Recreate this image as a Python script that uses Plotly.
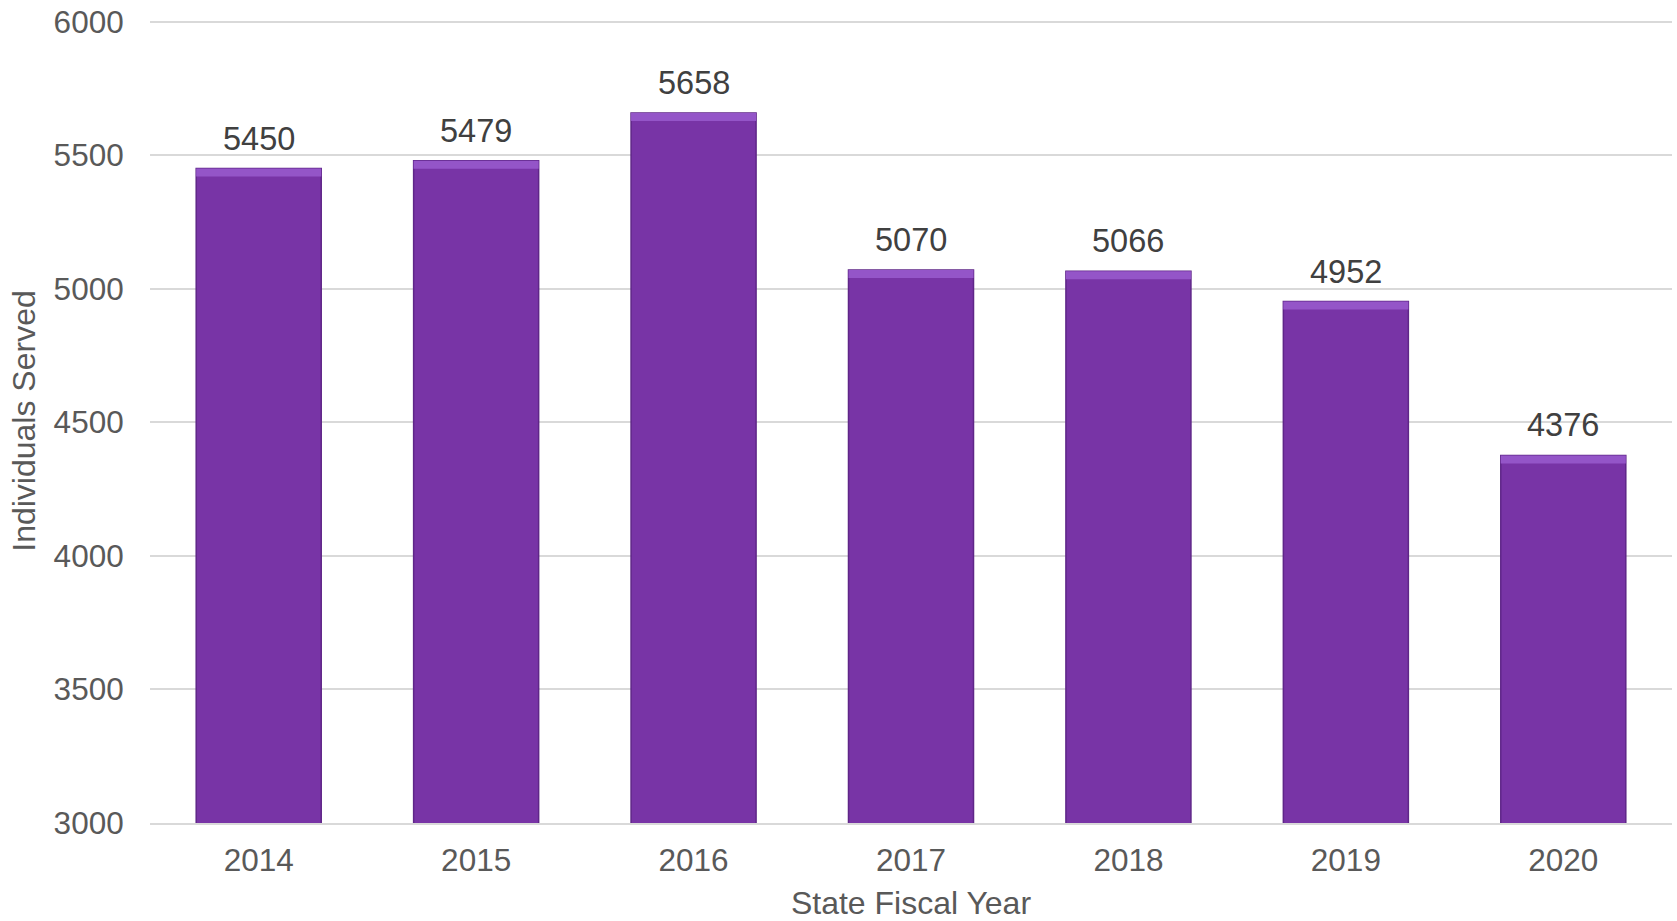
import plotly.graph_objects as go

years = ["2014", "2015", "2016", "2017", "2018", "2019", "2020"]
served = [5450, 5479, 5658, 5070, 5066, 4952, 4376]
y_ticks = [3000, 3500, 4000, 4500, 5000, 5500, 6000]

bevel = 30  # value units of the lighter top edge

fig = go.Figure()
fig.add_trace(go.Bar(
    x=years, y=served,
    marker=dict(color="#7834a6", line=dict(color="#5f2688", width=1.5)),
    hoverinfo="skip",
))
fig.add_trace(go.Bar(
    x=years, y=[bevel] * len(served), base=[v - bevel for v in served],
    marker=dict(color="#9455c8", line=dict(width=0)),
    hoverinfo="skip",
))

# category axis: annotations placed by category index
for i, v in enumerate(served):
    fig.add_annotation(
        x=i, y=v, text=str(v), showarrow=False,
        yanchor="bottom", yshift=10,
        font=dict(family="Liberation Sans, Arial", size=32.5, color="#404040"),
    )

fig.update_layout(
    width=1677, height=921,
    barmode="overlay", bargap=0.425, showlegend=False,
    plot_bgcolor="white", paper_bgcolor="white",
    margin=dict(l=150, r=5, t=19, b=98),
    font=dict(family="Liberation Sans, Arial", size=31.5, color="#595959"),
    xaxis=dict(
        type="category",
        title=dict(text="State Fiscal Year", font=dict(size=32, color="#595959"), standoff=21),
        showline=True, linecolor="#d9d9d9", linewidth=2,
        ticks="outside", ticklen=8, tickcolor="rgba(0,0,0,0)",
        tickfont=dict(size=31.5, color="#595959"), automargin=False,
    ),
    yaxis=dict(
        title=dict(text="Individuals Served", font=dict(size=32, color="#595959"), standoff=8),
        range=[3000, 6010], tickvals=y_ticks,
        showgrid=True, gridcolor="#d9d9d9", gridwidth=1.5,
        zeroline=False,
        ticks="outside", ticklen=19, tickcolor="rgba(0,0,0,0)",
        tickfont=dict(size=31.5, color="#595959"), automargin=False,
    ),
)

fig.write_html("out.html", config={"displayModeBar": False},
               post_script="document.body.style.margin='0';")
